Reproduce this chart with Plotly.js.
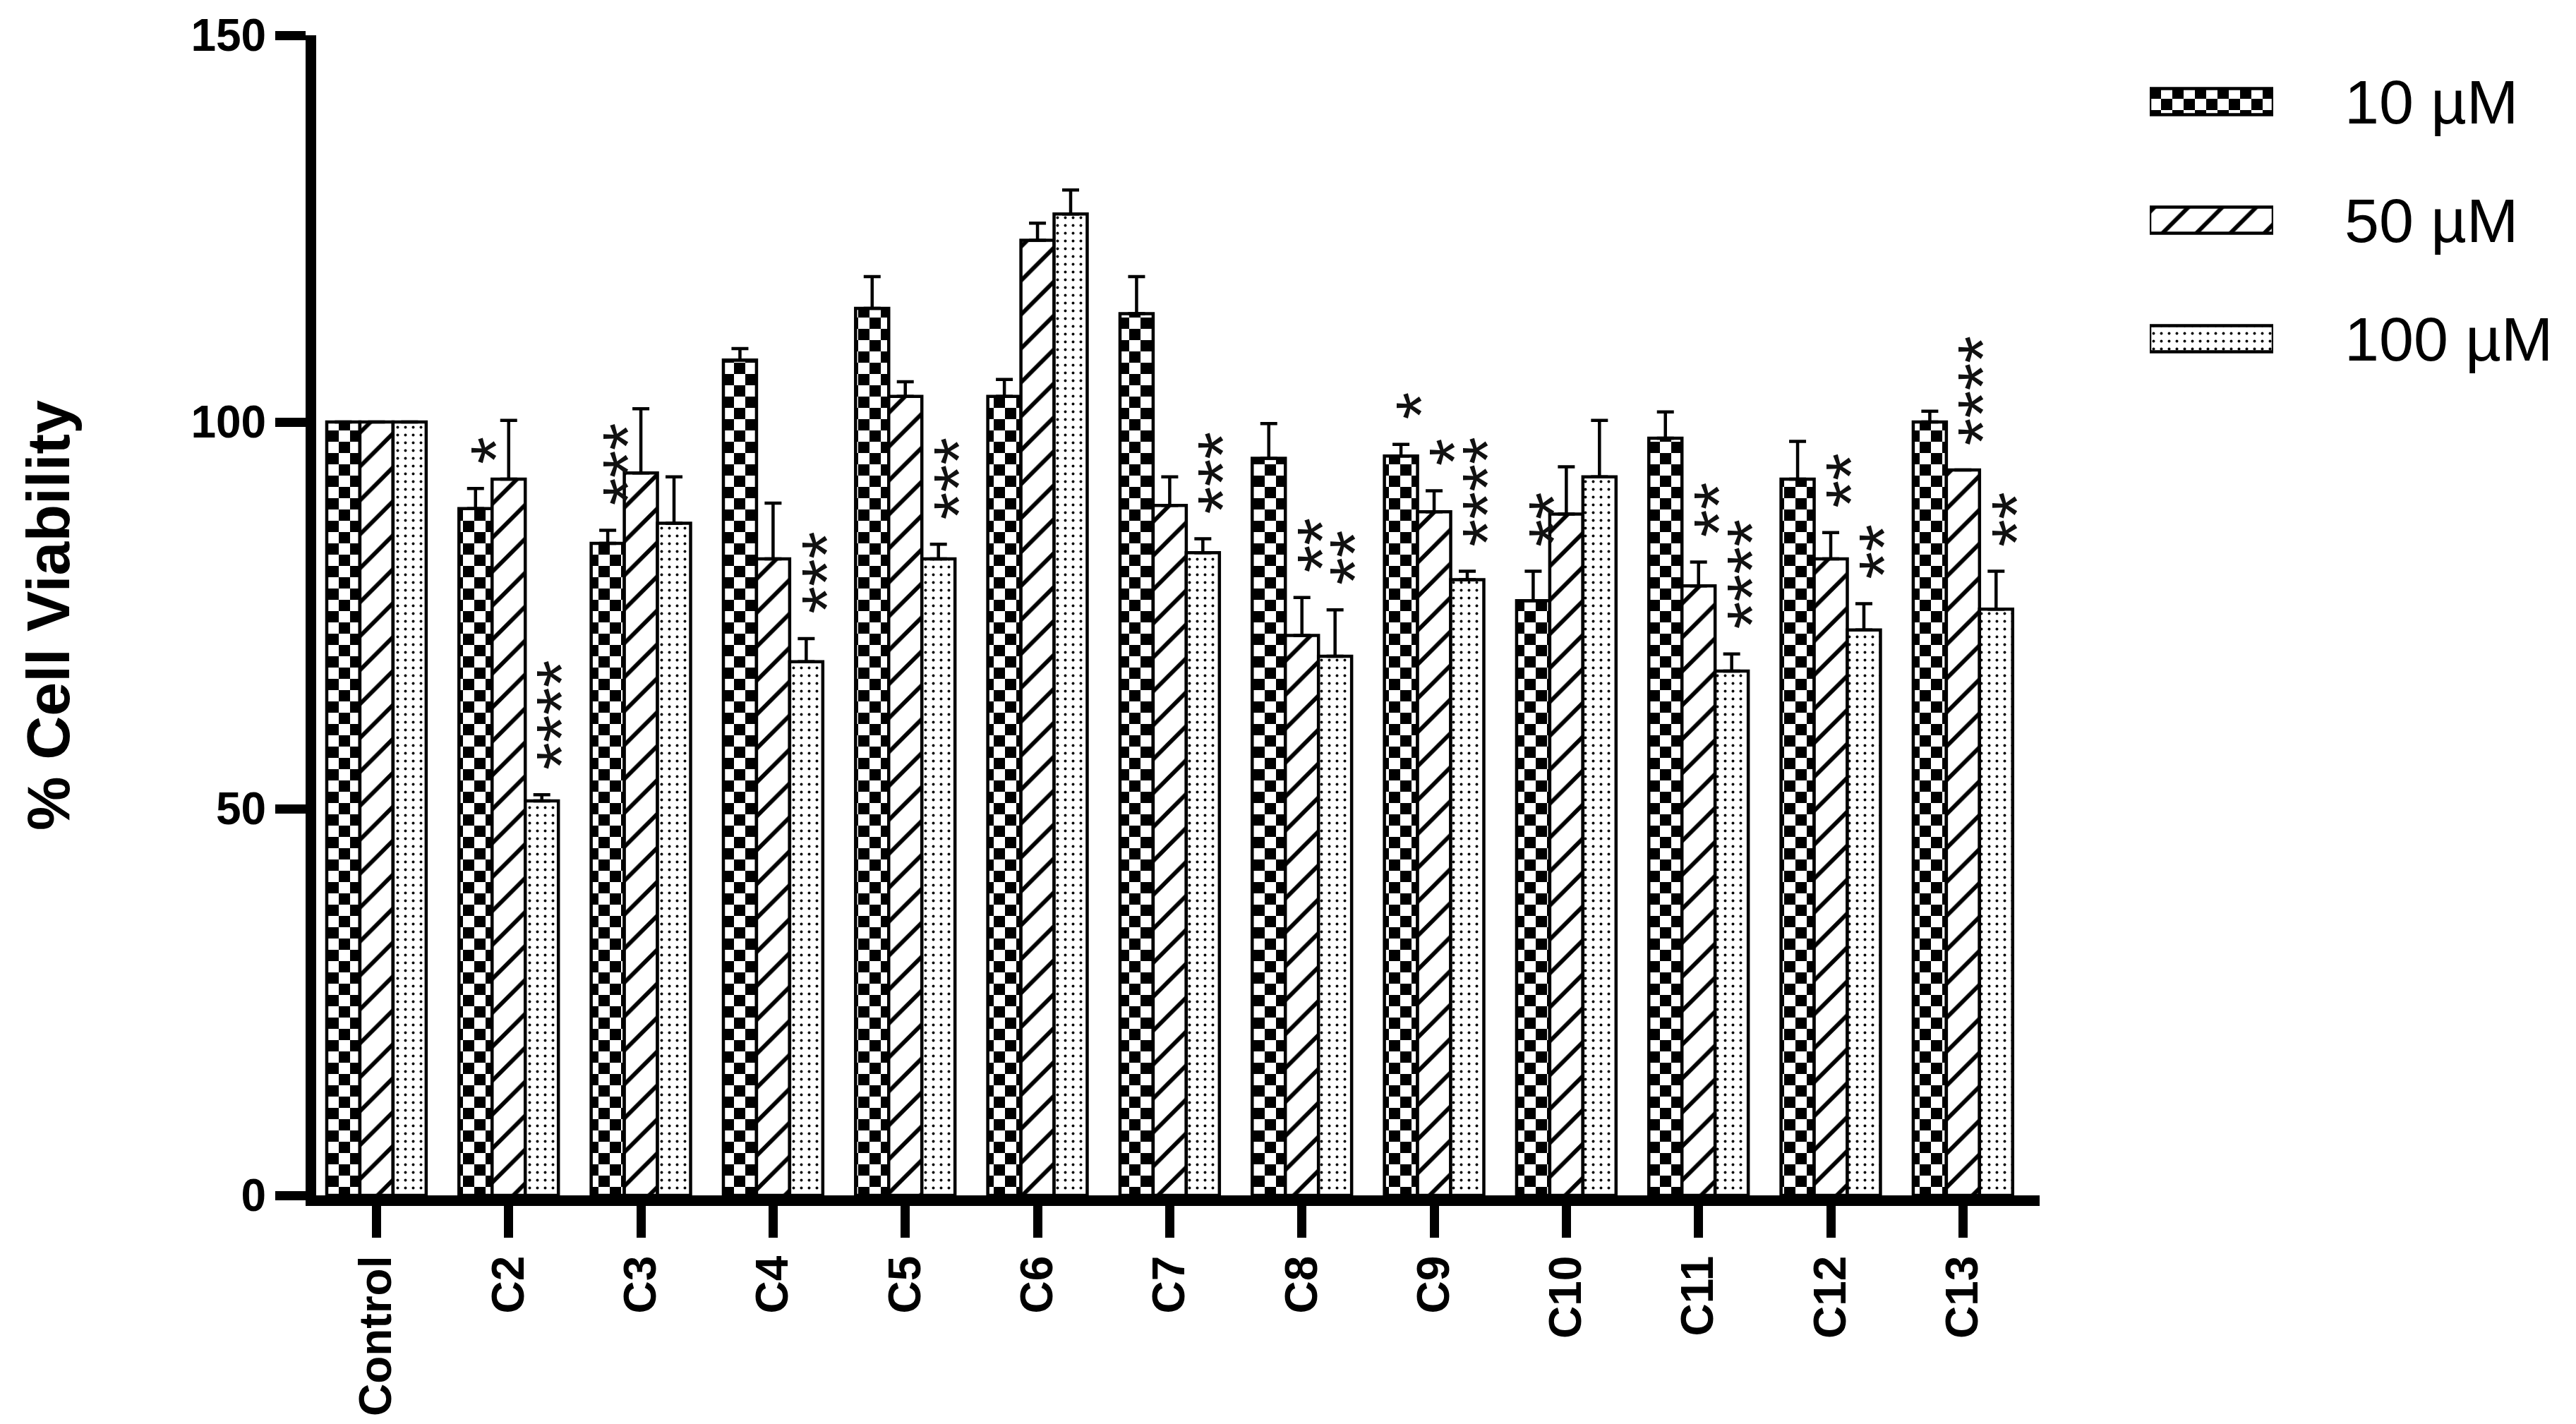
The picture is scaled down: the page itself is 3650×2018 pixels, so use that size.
<!DOCTYPE html>
<html>
<head>
<meta charset="utf-8">
<script src="https://cdn.plot.ly/plotly-3.0.1.min.js"></script>
<style>
  html, body { margin: 0; padding: 0; background: #fff; }
  #chart { width: 3650px; height: 2018px; }
  #tiles { position: absolute; width: 0; height: 0; }
</style>
</head>
<body>
<!-- checkerboard tile for the 10 uM bars (plotly has no such pattern shape) -->
<svg id="tiles" xmlns="http://www.w3.org/2000/svg">
  <defs>
    <pattern id="checker" patternUnits="userSpaceOnUse" width="32" height="32">
      <rect width="32" height="32" fill="#fff"/>
      <rect width="16" height="16" fill="#000"/>
      <rect x="16" y="16" width="16" height="16" fill="#000"/>
    </pattern>
  </defs>
</svg>
<div id="chart"></div>
<script>
/* cell viability bar chart, 3 concentrations, mean + SEM, significance stars */
const categories = ["Control", "C2", "C3", "C4", "C5", "C6", "C7", "C8", "C9", "C10", "C11", "C12", "C13"];
const seriesNames = ["10 \u00b5M", "50 \u00b5M", "100 \u00b5M"];

const mean10  = [100, 88.8, 84.3, 108.0, 114.7, 103.3, 114.0, 95.3, 95.6, 76.9, 97.9, 92.6, 100.0];
const err10   = [0, 2.6, 1.7, 1.5, 4.1, 2.2, 4.8, 4.5, 1.5, 3.8, 3.4, 4.9, 1.4];
const sig10   = ["", "*", "***", "", "", "", "", "", "*", "**", "", "", ""];

const mean50  = [100, 92.6, 93.4, 82.3, 103.3, 123.5, 89.2, 72.4, 88.4, 88.1, 78.8, 82.3, 93.8];
const err50   = [0, 7.6, 8.3, 7.2, 1.9, 2.2, 3.7, 4.9, 2.7, 6.1, 3.1, 3.4, 0];
const sig50   = ["", "", "", "", "", "", "", "**", "*", "", "**", "**", "****"];

const mean100 = [100, 51.0, 86.9, 69.0, 82.3, 126.9, 83.1, 69.7, 79.6, 92.9, 67.8, 73.1, 75.8];
const err100  = [0, 0.8, 6.0, 3.0, 1.9, 3.1, 1.8, 6.0, 1.1, 7.3, 2.2, 3.4, 4.9];
const sig100  = ["", "****", "", "***", "***", "", "***", "**", "****", "", "****", "**", "**"];

const yTicks = [0, 50, 100, 150];

(function () {
  const FONT = "Liberation Sans, Arial, Helvetica, sans-serif";
  const W = 3650, H = 2018;
  const BARGAP = 0.248;
  // fill pattern per series; series 0 gets the checkerboard tile after drawing
  const PAT = [
    { shape: "+", size: 32, solidity: 0.5 },
    { shape: "/", size: 34, solidity: 0.17 },
    { shape: ".", size: 11, solidity: 0.1 },
  ];
  const means = [mean10, mean50, mean100];
  const errs = [err10, err50, err100];
  const sigs = [sig10, sig50, sig100];

  const traces = means.map((m, i) => ({
    type: "bar", name: seriesNames[i], uid: "s" + i,
    x: categories, y: m,
    marker: {
      color: "#ffffff",
      line: { color: "#000", width: 4.5 },
      pattern: { shape: PAT[i].shape, size: PAT[i].size, solidity: PAT[i].solidity,
                 fillmode: "replace", bgcolor: "#ffffff", fgcolor: "#000000" },
    },
    error_y: { type: "data", symmetric: false, array: errs[i], arrayminus: m.map(() => 0),
               color: "#000", thickness: 4.5, width: 12 },
    hoverinfo: "skip",
  }));

  // legend swatches drawn as a small horizontal bar chart on its own axes
  traces.push({
    type: "bar", orientation: "h", uid: "leg", xaxis: "x2", yaxis: "y2",
    y: seriesNames, x: seriesNames.map(() => 1), width: 0.22,
    marker: {
      color: "#ffffff",
      line: { color: "#000", width: 4.5 },
      pattern: { shape: PAT.map(p => p.shape), size: PAT.map(p => p.size),
                 solidity: PAT.map(p => p.solidity), fillmode: "replace",
                 bgcolor: "#ffffff", fgcolor: "#000000" },
    },
    hoverinfo: "skip",
  });

  // significance stars, stacked vertically above each bar's error bar
  const slot = (1 - BARGAP) / 3;
  const annotations = [];
  sigs.forEach((s, i) => s.forEach((txt, j) => {
    if (!txt) return;
    annotations.push({
      x: j + (i - 1) * slot, y: means[i][j] + errs[i][j] + 3,
      xref: "x", yref: "y", text: txt, showarrow: false,
      textangle: -90, xanchor: "center", yanchor: "bottom", xshift: 28,
      font: { family: FONT, size: 100, color: "#111" },
    });
  }));

  const layout = {
    width: W, height: H,
    margin: { l: 0, r: 0, t: 50, b: 324 },
    paper_bgcolor: "#fff", plot_bgcolor: "#fff",
    font: { family: FONT, color: "#000" },
    showlegend: false,
    barmode: "group", bargap: BARGAP, bargroupgap: 0,
    xaxis: {
      domain: [448 / W, 2890 / W], range: [-0.456, 12.58],
      showline: true, linewidth: 15, linecolor: "#000",
      ticks: "outside", ticklen: 45, tickwidth: 13, tickcolor: "#000",
      tickangle: -90, tickfont: { family: FONT, size: 64, weight: "bold" },
      showgrid: false, zeroline: false, fixedrange: true,
    },
    yaxis: {
      range: [0, 150], tickvals: yTicks,
      showline: true, linewidth: 15, linecolor: "#000",
      ticks: "outside", ticklen: 43, tickwidth: 13, tickcolor: "#000",
      tickfont: { family: FONT, size: 64, weight: "bold" },
      showgrid: false, zeroline: false, fixedrange: true,
      title: { text: "% Cell Viability", font: { family: FONT, size: 86, weight: "bold" }, standoff: 150 },
    },
    xaxis2: {
      domain: [3046 / W, 3221 / W], range: [0, 1], anchor: "y2",
      visible: false, fixedrange: true,
    },
    yaxis2: {
      domain: [0.68735, 0.99392], range: [2.5, -0.5], anchor: "x2", side: "right",
      showline: false, showgrid: false, zeroline: false, ticks: "",
      ticklabelstandoff: 100,
      tickfont: { family: FONT, size: 88 }, fixedrange: true,
    },
    annotations,
  };

  const gd = document.getElementById("chart");

  // paint the 10 uM bars and the first legend swatch with the checker tile
  function checker() {
    const groups = gd.querySelectorAll("g.barlayer g.trace.bars");
    if (!groups.length) return;
    groups[0].querySelectorAll("g.point path").forEach(p => { p.style.fill = "url(#checker)"; });
    const leg = groups[groups.length - 1].querySelector("g.point path");
    if (leg) leg.style.fill = "url(#checker)";
  }

  Plotly.newPlot(gd, traces, layout, { staticPlot: true, displayModeBar: false }).then(checker);
  checker();
  gd.on && gd.on("plotly_afterplot", checker);
  setTimeout(checker, 50);
})();
</script>
</body>
</html>
